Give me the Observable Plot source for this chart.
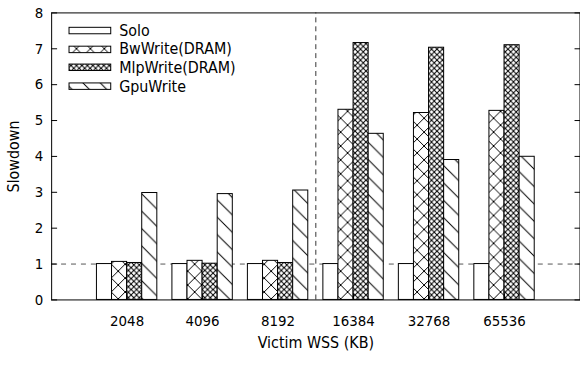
<!DOCTYPE html>
<html>
<head>
<meta charset="utf-8">
<script src="https://cdn.jsdelivr.net/npm/d3@7"></script>
<script src="https://cdn.jsdelivr.net/npm/@observablehq/plot@0.6"></script>
<style>
  html, body { margin: 0; padding: 0; background: #fff; }
  #wrap { width: 580px; height: 365px; overflow: hidden; position: relative; }
  #wrap svg { font-family: "DejaVu Sans Condensed", "DejaVu Sans", sans-serif; font-stretch: condensed; }
</style>
</head>
<body>
<div id="wrap"></div>
<script>
const categories = ["2048", "4096", "8192", "16384", "32768", "65536"];
const series = ["Solo", "BwWrite(DRAM)", "MlpWrite(DRAM)", "GpuWrite"];
const solo     = [1.00, 1.00, 1.00, 1.00, 1.00, 1.00];
const bwWrite  = [1.06, 1.09, 1.09, 5.30, 5.21, 5.27];
const mlpWrite = [1.03, 1.01, 1.03, 7.16, 7.03, 7.10];
const gpuWrite = [2.98, 2.95, 3.05, 4.63, 3.90, 3.99];
const yTicks = [0, 1, 2, 3, 4, 5, 6, 7, 8];
const fills = ["#fff", "url(#p-bw)", "url(#p-mlp)", "url(#p-gpu)"];

const values = [solo, bwWrite, mlpWrite, gpuWrite];
const barW = 0.2;
const rows = [];
categories.forEach((c, i) => {
  series.forEach((s, j) => {
    const x1 = i - 0.4 + j * barW;
    rows.push({cat: c, series: s, j, x1, x2: x1 + barW, value: values[j][i]});
  });
});

const font = 15;
const labelFont = 16;
const plot = Plot.plot({
  width: 584,
  height: 365,
  marginTop: 12.5,
  marginBottom: 63.5,
  marginLeft: 51.5,
  marginRight: 0.5,
  style: {fontSize: font + "px", background: "#fff", color: "#000"},
  x: {domain: [-1, 6]},
  y: {domain: [0, 8]},
  marks: [
    Plot.ruleY([1], {stroke: "#555", strokeDasharray: "5,5", strokeWidth: 1}),
    Plot.ruleX([2.5], {y1: 0, y2: 8, stroke: "#333", strokeDasharray: "5,4", strokeWidth: 1}),
    ...series.map((s, j) => Plot.rect(rows.filter(r => r.j === j), {
      x1: "x1", x2: "x2", y1: 0, y2: "value",
      fill: fills[j], stroke: "#000", strokeWidth: 1
    })),
    Plot.axisY({ticks: yTicks, tickSize: 0, tickPadding: 8.5, tickFormat: d => String(d), label: null, fontSize: font}),
    Plot.axisY({ticks: yTicks, tickSize: -6, tickFormat: () => "", label: null}),
    Plot.axisY({anchor: "right", ticks: yTicks, tickSize: -6, tickFormat: () => "", label: null}),
    Plot.axisX({ticks: d3.range(categories.length), tickSize: 0, tickPadding: 16, tickFormat: i => categories[i], label: null, fontSize: font}),
    Plot.axisX({ticks: d3.range(categories.length), tickSize: -6, tickFormat: () => "", label: null}),
    Plot.frame({stroke: "#000", strokeWidth: 1}),
    Plot.text(["Victim WSS (KB)"], {frameAnchor: "bottom", lineAnchor: "middle", textAnchor: "middle", dy: 43, text: d => d, fontSize: labelFont}),
    Plot.text(["Slowdown"], {frameAnchor: "left", lineAnchor: "middle", textAnchor: "middle", dx: -37.5, rotate: -90, text: d => d, fontSize: labelFont})
  ]
});

document.getElementById("wrap").appendChild(plot);

// patterns
const svg = d3.select(plot);
const defs = svg.insert("defs", ":first-child");
function pattern(id, w, h, paths) {
  const p = defs.append("pattern").attr("id", id).attr("patternUnits", "userSpaceOnUse")
    .attr("width", w).attr("height", h);
  p.append("rect").attr("width", w).attr("height", h).attr("fill", "#fff");
  p.append("path").attr("d", paths).attr("stroke", "#000").attr("stroke-width", 1).attr("fill", "none");
}
const b = 14;
pattern("p-bw", b, b, `M0,0L${b},${b}M${b},0L0,${b}M-1,${b-1}L1,${b+1}M${b-1},-1L${b+1},1`);
const m = 5.5;
pattern("p-mlp", m, m, `M0,0L${m},${m}M${m},0L0,${m}`);
const g = 17.5;
pattern("p-gpu", g, g, `M0,0L${g},${g}M-1,${g-1}L1,${g+1}M${g-1},-1L${g+1},1`);

// legend
const legend = svg.append("g").attr("font-size", labelFont).attr("text-anchor", "start");
series.forEach((s, j) => {
  const cy = 30.5 + j * 18.7;
  legend.append("rect").attr("x", 69.5).attr("y", Math.round(cy - 3.5) + 0.5).attr("width", 42).attr("height", 6.5)
    .attr("fill", fills[j]).attr("stroke", "#000").attr("stroke-width", 1);
  legend.append("text").attr("x", 120).attr("y", cy).attr("dy", "0.35em").text(s);
});
</script>
</body>
</html>
